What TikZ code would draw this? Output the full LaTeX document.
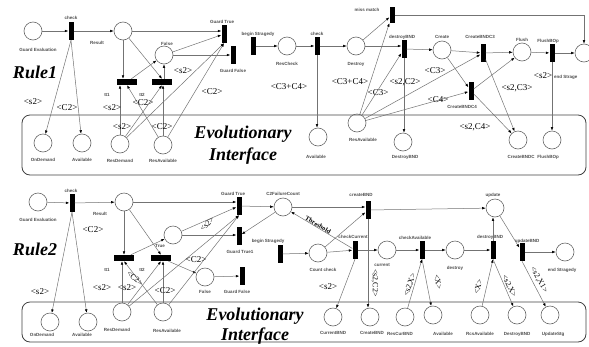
\documentclass[tikz,border=0pt]{standalone}
\usepackage{fontspec}
\setmainfont{Liberation Serif}
\newfontfamily\lblf{Liberation Sans}
\usetikzlibrary{arrows.meta}
\begin{document}
\begin{tikzpicture}[x=1pt,y=-1pt,
 place/.style={circle,draw=black!60,line width=0.6pt,minimum size=18pt,inner sep=0},
 vbar/.style={fill=black,minimum width=5pt,minimum height=18pt,inner sep=0},
 hbar/.style={fill=black,minimum width=20pt,minimum height=6pt,inner sep=0},
 lbl/.style={font=\lblf\bfseries\fontsize{4.5}{5}\selectfont,text=black!70,inner sep=0},
 ins/.style={font=\fontsize{9}{10}\selectfont,inner sep=0},
 rins/.style={font=\fontsize{8}{9}\selectfont,inner sep=0},
 big/.style={font=\bfseries\itshape\fontsize{18}{20}\selectfont,inner sep=0},
 arc/.style={draw=black!55,line width=0.5pt,-{Latex[length=3.5pt,width=2.6pt,black]}},
 ifbox/.style={draw=black!75,line width=0.8pt,rounded corners=8pt,inner sep=0}]
\useasboundingbox (0,0) rectangle (589,346);
% ---------------- Rule 1 ----------------
\node[ifbox,minimum width=564pt,minimum height=60pt] (box1) at (304,145) {};
\node[big] (r1) at (35,72) {Rule1};
\node[big] (ev1) at (243,134) {Evolutionary};
\node[big] (in1) at (243,156) {Interface};

\node[place] (ge1) at (33,31) {};
\node[lbl] (ge1l) at (38,50) {Guard Evaluation};
\node[vbar] (ck1) at (71,31) {};
\node[lbl] (ck1l) at (71,18) {check};
\node[place] (res1) at (123,31) {};
\node[lbl] (res1l) at (97,43) {Result};
\node[place] (fa1) at (164,55) {};
\node[lbl] (fa1l) at (167,44) {False};
\node[hbar] (ta1) at (127,82) {};
\node[hbar] (tb1) at (162,82) {};
\node[lbl] (ta1l) at (107,95) {tt1};
\node[lbl] (tb1l) at (142,95) {tt2};
\node[vbar] (gt1) at (224,34) {};
\node[lbl] (gt1l) at (222,22) {Guard True};
\node[vbar] (gf1) at (233,55) {};
\node[lbl] (gf1l) at (233,71) {Guard False};
\node[vbar] (bs1) at (253,46) {};
\node[lbl] (bs1l) at (258,34) {begin Stragedy};
\node[place] (rc1) at (287,46) {};
\node[lbl] (rc1l) at (287,64) {ResCheck};
\node[vbar] (ckb1) at (317,46) {};
\node[lbl] (ckb1l) at (317,34) {check};
\node[place] (de1) at (356,46) {};
\node[lbl] (de1l) at (356,64) {Destroy};
\node[vbar,minimum height=16pt] (mm1) at (392,15) {};
\node[lbl] (mm1l) at (367,10) {miss match};
\node[vbar] (db1) at (404,49) {};
\node[lbl] (db1l) at (402,37) {destroyBND};
\node[place] (cr1) at (442,50) {};
\node[lbl] (cr1l) at (442,37) {Create};
\node[vbar] (c31) at (483,53) {};
\node[lbl] (c31l) at (480,37) {CreateBNDC3};
\node[place] (fl1) at (522,52) {};
\node[lbl] (fl1l) at (522,40) {Flush};
\node[vbar] (fb1) at (552,53) {};
\node[lbl] (fb1l) at (548,41) {FlushBOp};
\node[place] (en1) at (584,53) {};
\node[lbl,anchor=west] (en1l) at (554,77) {end Strage};
\node[vbar] (c41) at (471,91) {};
\node[lbl] (c41l) at (462,107) {CreateBNDC4};

\node[place] (od1) at (43,143) {};
\node[lbl] (od1l) at (43,160) {OnDemand};
\node[place] (av1) at (82,143) {};
\node[lbl] (av1l) at (82,160) {Available};
\node[place] (rd1) at (120,144) {};
\node[lbl] (rd1l) at (120,161) {ResDemand};
\node[place] (ra1) at (163,145) {};
\node[lbl] (ra1l) at (163,161) {ResAvailable};
\node[place] (avb1) at (318,137) {};
\node[lbl] (avb1l) at (316,157) {Available};
\node[place] (rab1) at (357,123) {};
\node[lbl] (rab1l) at (363,140) {ResAvailable};
\node[place] (dd1) at (403,142) {};
\node[lbl] (dd1l) at (405,157) {DestroyBND};
\node[place] (cb1) at (518,140) {};
\node[lbl] (cb1l) at (521,157) {CreateBNDC};
\node[place] (fp1) at (552,140) {};
\node[lbl] (fp1l) at (548,157) {FlushBOp};

\draw[arc] (ge1) -- (ck1);
\draw[arc] (ck1) -- (res1);
\draw[arc] (ck1.south) -- (od1);
\draw[arc] (ck1.south) -- (av1);
\draw[arc] (res1.south) -- (res1.south |- ta1.north);
\draw[arc] (res1) -- (tb1.north);
\draw[arc] (res1.east) -- (res1.east -| gt1.west);
\draw[arc] (ta1) -- (fa1);
\draw[arc] (tb1.north -| fa1) -- (fa1.south);
\draw[arc] (fa1) -- (gt1);
\draw[arc] (fa1.east) -- (fa1.east -| gf1.west);
\draw[arc] (rd1.north) -- (rd1.north |- ta1.south);
\draw[arc] (ra1) -- (ta1.south);
\draw[arc] (rd1) -- (tb1.south);
\draw[arc] (ra1.north) -- (ra1.north |- tb1.south);
\draw[arc] (rd1) -- (gt1.south);
\draw[arc] (ra1) -- (gt1.south);
\draw[arc] (bs1) -- (rc1);
\draw[arc] (rc1) -- (ckb1);
\draw[arc] (ckb1) -- (de1);
\draw[arc] (ckb1.south) -- (ckb1.south |- avb1.north);
\draw[arc] (de1) -- (mm1);
\draw[arc] (de1.east) -- (de1.east -| db1.west);
\draw[arc] (rab1) -- (mm1);
\draw[arc] (rab1) -- (db1);
\draw[arc] (rab1) -- (c31);
\draw[arc] (rab1) -- (c41);
\draw[arc] (db1.south) -- (db1.south |- dd1.north);
\draw[arc] (db1) -- (cr1);
\draw[arc] (cr1) -- (c31);
\draw[arc] (cr1) -- (c41);
\draw[arc] (c31) -- (fl1);
\draw[arc] (c41) -- (fl1);
\draw[arc] (c31) -- (cb1);
\draw[arc] (c41) -- (cb1);
\draw[arc] (fl1) -- (fb1);
\draw[arc] (fb1) -- (en1);
\draw[arc] (fb1.south) -- (fb1.south |- fp1.north);
\draw[arc] (mm1.east) -| (en1.north);

\node[ins] at (33,102) {<s2>};
\node[ins] at (67,108) {<C2>};
\node[ins] at (112,108) {<s2>};
\node[ins] at (143,103) {<C2>};
\node[ins] at (122,127) {<s2>};
\node[ins] at (162,127) {<C2>};
\node[ins] at (183,71) {<s2>};
\node[ins] at (212,92) {<C2>};
\node[ins] at (289,87) {<C3+C4>};
\node[ins] at (350,82) {<C3+C4>};
\node[ins] at (378,93) {<C3>};
\node[ins] at (405,82) {<s2,C2>};
\node[ins] at (435,71) {<C3>};
\node[ins] at (438,100) {<C4>};
\node[ins] at (517,88) {<s2,C3>};
\node[ins] at (543,76) {<s2>};
\node[ins] at (475,127) {<s2,C4>};

% ---------------- Rule 2 ----------------
\node[ifbox,minimum width=564pt,minimum height=40pt] (box2) at (304,322) {};
\node[big] (r2) at (35,249) {Rule2};
\node[big] (ev2) at (255,316) {Evolutionary};
\node[big] (in2) at (255,336) {Interface};

\node[place] (ge2) at (38,202) {};
\node[lbl] (ge2l) at (38,220) {Guard Evaluation};
\node[vbar] (ck2) at (72,203) {};
\node[lbl] (ck2l) at (71,191) {check};
\node[place] (res2) at (124,202) {};
\node[lbl] (res2l) at (100,214) {Result};
\node[place] (tr2) at (173,235) {};
\node[lbl] (tr2l) at (160,246) {True};
\node[hbar] (ta2) at (124,258) {};
\node[hbar] (tb2) at (161,258) {};
\node[lbl] (ta2l) at (107,270) {tt1};
\node[lbl] (tb2l) at (142,270) {tt2};
\node[place] (fa2) at (205,277) {};
\node[lbl] (fa2l) at (205,292) {False};
\node[vbar] (gf2) at (242,276) {};
\node[lbl] (gf2l) at (237,292) {Guard False};
\node[vbar] (gt2) at (239,206) {};
\node[lbl] (gt2l) at (233,194) {Guard True};
\node[vbar] (gu2) at (239,236) {};
\node[lbl] (gu2l) at (240,252) {Guard True1};
\node[place] (cf2) at (283,207) {};
\node[lbl] (cf2l) at (283,194) {C2FailureCount};
\node[vbar] (cb2) at (368,210) {};
\node[lbl] (cb2l) at (361,195) {createBND};
\node[place] (up2) at (495,208) {};
\node[lbl] (up2l) at (493,195) {update};
\node[vbar] (bs2) at (280,254) {};
\node[lbl] (bs2l) at (268,241) {begin Stragedy};
\node[place] (cc2) at (318,253) {};
\node[lbl] (cc2l) at (323,270) {Count check};
\node[vbar] (ku2) at (355,250) {};
\node[lbl] (ku2l) at (353,237) {checkCurrent};
\node[place] (cu2) at (387,250) {};
\node[lbl] (cu2l) at (382,265) {current};
\node[vbar] (ka2) at (422,250) {};
\node[lbl] (ka2l) at (415,238) {checkAvailable};
\node[place] (de2) at (455,250) {};
\node[lbl] (de2l) at (455,268) {destroy};
\node[vbar] (db2) at (493,250) {};
\node[lbl] (db2l) at (490,237) {destroyBND};
\node[vbar] (ub2) at (522,252) {};
\node[lbl] (ub2l) at (527,241) {updateBND};
\node[place] (en2) at (565,252) {};
\node[lbl] (en2l) at (562,270) {end Stragedy};

\node[place] (od2) at (50,322) {};
\node[lbl] (od2l) at (42,335) {OnDemand};
\node[place] (av2) at (88,322) {};
\node[lbl] (av2l) at (82,335) {Available};
\node[place] (rd2) at (122,312) {};
\node[lbl] (rd2l) at (117,330) {ResDemand};
\node[place] (ra2) at (163,312) {};
\node[lbl] (ra2l) at (167,331) {ResAvailable};
\node[place] (cn2) at (333,317) {};
\node[lbl] (cn2l) at (333,333) {CurrentBND};
\node[place] (cd2) at (370,317) {};
\node[lbl] (cd2l) at (372,333) {CreateBND};
\node[place] (rb2) at (405,317) {};
\node[lbl] (rb2l) at (400,334) {ResCurBND};
\node[place] (av3) at (433,315) {};
\node[lbl] (av3l) at (443,334) {Available};
\node[place] (ra3) at (480,315) {};
\node[lbl] (ra3l) at (480,334) {RcsAvailable};
\node[place] (dd2) at (517,315) {};
\node[lbl] (dd2l) at (517,334) {DestroyBND};
\node[place] (us2) at (550,315) {};
\node[lbl] (us2l) at (553,334) {UpdateStg};

\draw[arc] (ge2) -- (ck2);
\draw[arc] (ck2) -- (res2);
\draw[arc] (ck2.south) -- (od2);
\draw[arc] (ck2.south) -- (av2);
\draw[arc] (res2.south) -- (res2.south |- ta2.north);
\draw[arc] (res2) -- (tb2.north);
\draw[arc] (res2.east) -- (res2.east -| gt2.west);
\draw[arc] (ta2) -- (tr2);
\draw[arc] (tb2) -- (fa2);
\draw[arc] (tr2.east) -- (tr2.east -| gu2.west);
\draw[arc] (tr2) -- (gt2);
\draw[arc] (fa2) -- (gf2);
\draw[arc] (rd2.north) -- (rd2.north |- ta2.south);
\draw[arc] (ra2) -- (ta2.south);
\draw[arc] (rd2) -- (tb2.south);
\draw[arc] (ra2.north) -- (ra2.north |- tb2.south);
\draw[arc] (rd2) -- (gt2.south);
\draw[arc] (ra2) -- (gt2.south);
\draw[arc] (gt2) -- (cf2);
\draw[arc] (cf2) -- (gu2);
\draw[arc] (cf2.east) -- (cf2.east -| cb2.west);
\draw[arc] (cb2) -- (up2);
\draw[arc] (bs2) -- (cc2);
\draw[arc] (cc2) -- (ku2);
\draw[arc] (cc2) -- (cb2);
\draw[arc] (ku2) -- (cf2);
\draw[arc] (ku2) -- (cu2);
\draw[arc] (cu2) -- (ka2);
\draw[arc] (ka2) -- (de2);
\draw[arc] (de2) -- (db2);
\draw[arc] (db2.north) -- (db2.north |- up2.south);
\draw[arc] (up2) -- (ub2);
\draw[arc] (ub2) -- (en2);
\draw[arc] (ku2.south) -- (cn2);
\draw[arc] (cb2.south) -- (cb2.south |- cd2.north);
\draw[arc] (rb2) -- (ka2.south);
\draw[arc] (ka2.south) -- (av3);
\draw[arc] (ra3) -- (db2.south);
\draw[arc] (db2.south) -- (dd2);
\draw[arc] (ub2.south) -- (us2);

\node[ins] at (93,230) {<C2>};
\node[ins] at (40,292) {<s2>};
\node[ins] at (102,288) {<s2>};
\node[ins] at (127,288) {<s2>};
\node[ins] at (165,291) {<C2>};
\node[rins,rotate=-40] at (135,278) {<C2>};
\node[ins] at (196,260) {<C2>};
\node[rins,rotate=45] at (207,224) {<s2>};
\node[rins,rotate=-30,font=\bfseries\fontsize{6.5}{8}\selectfont] at (318,225) {Threshold};
\node[ins] at (328,287) {<s2>};
\node[rins,rotate=-90] at (375,283) {<s2,C2>};
\node[rins,rotate=71] at (410,285) {<s2,X>};
\node[rins,rotate=-77] at (438,282) {<X>};
\node[rins,rotate=75] at (478,287) {<X>};
\node[rins,rotate=-64] at (509,286) {<s2,X>};
\node[rins,rotate=-60] at (539,280) {<s2,X1>};
\end{tikzpicture}
\end{document}
